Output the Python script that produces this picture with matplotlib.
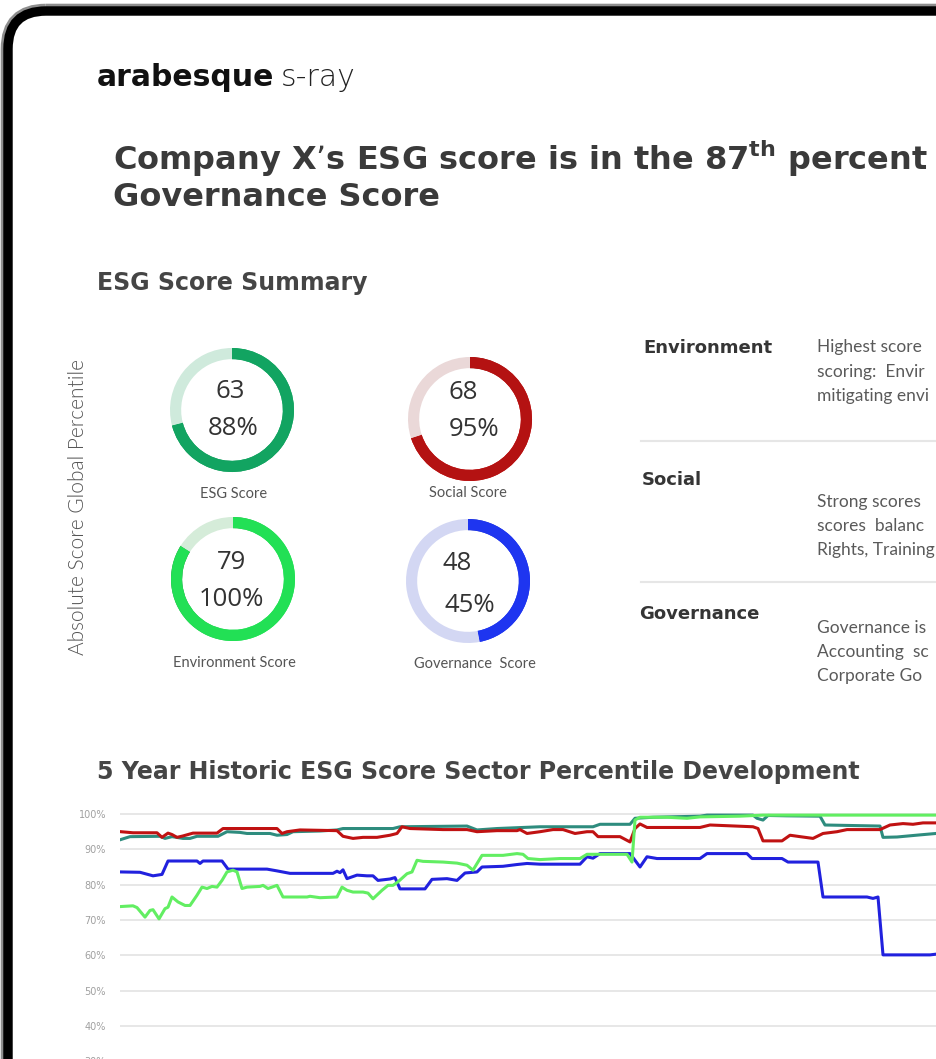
import numpy as np
import matplotlib.pyplot as plt
from matplotlib.patches import FancyBboxPatch
from matplotlib.colors import LinearSegmentedColormap
from matplotlib.ticker import PercentFormatter

plt.rcParams['mathtext.fontset'] = 'dejavusans'

W, H = 936, 1059

# ---- gauge data
gauge_names = ["ESG Score", "Social Score", "Environment Score", "Governance  Score"]
gauge_scores = [63, 68, 79, 48]
gauge_pct = [88, 95, 100, 45]
gauge_fill = [0.71, 0.70, 0.84, 0.47]  # share of ring drawn in colour

# ---- pillar commentary (as far as it shows before the page edge)
pillars = ["Environment", "Social", "Governance"]
pillar_text = [
    ["Highest score", "scoring:  Envir", "mitigating envi"],
    ["Strong scores", "scores  balanc", "Rights, Training"],
    ["Governance is", "Accounting  sc", "Corporate Go"],
]

# ---- 5 year sector percentile history (day index, percentile)
pct_ticks = [30, 40, 50, 60, 70, 80, 90, 100]

esg_day = [0, 18, 78, 88, 102, 124, 138, 152, 194, 212, 238, 252, 298, 312, 332,
           344, 398, 432, 444, 544, 558, 692, 712, 752, 838, 944, 958, 1018, 1028,
           1064, 1158, 1172, 1264, 1272, 1284, 1294, 1332, 1398, 1408, 1518, 1524,
           1552, 1598, 1630]
esg_pct = [92.8, 93.6, 93.7, 93.1, 93.6, 93.1, 93.1, 93.7, 93.7, 95.0, 94.8, 94.5,
           94.5, 94.0, 94.2, 95.0, 95.2, 95.5, 95.9, 95.9, 96.4, 96.6, 95.5, 95.9,
           96.4, 96.4, 97.1, 97.1, 98.8, 99.1, 99.4, 99.7, 99.7, 98.8, 98.3, 99.6,
           99.5, 99.4, 96.9, 96.6, 93.4, 93.5, 94.1, 94.5]

soc_day = [0, 24, 72, 82, 94, 102, 112, 124, 144, 192, 204, 312, 322, 332, 358,
           432, 444, 464, 484, 512, 538, 552, 562, 578, 644, 692, 712, 752, 792,
           798, 812, 838, 864, 884, 908, 932, 944, 954, 998, 1018, 1028, 1038,
           1052, 1158, 1178, 1264, 1274, 1284, 1322, 1338, 1358, 1384, 1404, 1432,
           1452, 1518, 1538, 1564, 1584, 1604, 1630]
soc_pct = [95.0, 94.7, 94.7, 93.4, 94.6, 94.2, 93.4, 93.8, 94.6, 94.6, 95.9, 95.9,
           94.5, 95.0, 95.5, 95.3, 93.7, 93.1, 93.4, 93.4, 94.0, 94.5, 96.4, 95.9,
           95.6, 95.6, 95.0, 95.3, 95.3, 95.6, 94.5, 95.0, 95.6, 95.6, 94.5, 95.0,
           95.0, 93.6, 93.6, 92.1, 95.9, 97.2, 96.2, 96.2, 96.9, 96.4, 95.9, 92.4,
           92.4, 94.0, 93.6, 93.1, 94.5, 95.0, 95.6, 95.6, 96.9, 97.3, 97.1, 97.5,
           97.5]

gov_day = [0, 38, 64, 82, 94, 152, 158, 164, 202, 214, 292, 312, 338, 424, 432,
           438, 444, 452, 464, 472, 492, 504, 514, 538, 548, 558, 608, 622, 652,
           672, 688, 712, 722, 764, 792, 812, 838, 918, 932, 944, 958, 1018, 1038,
           1052, 1072, 1158, 1172, 1252, 1262, 1322, 1334, 1394, 1404, 1492, 1504,
           1514, 1524, 1618, 1630]
gov_pct = [83.6, 83.5, 82.5, 82.9, 86.7, 86.7, 86.0, 86.7, 86.7, 84.4, 84.4, 83.9,
           83.2, 83.2, 83.8, 83.4, 84.2, 81.7, 82.3, 82.7, 82.5, 82.5, 81.2, 81.6,
           82.0, 78.8, 78.8, 81.5, 81.7, 81.2, 83.3, 83.6, 85.0, 85.2, 85.7, 86.0,
           85.8, 85.8, 87.9, 87.5, 88.8, 88.8, 85.0, 87.9, 87.4, 87.4, 88.8, 88.8,
           87.4, 87.4, 86.4, 86.4, 76.5, 76.5, 76.1, 76.5, 60.1, 60.1, 60.3]

env_day = [0, 24, 32, 48, 58, 64, 76, 88, 94, 102, 114, 128, 138, 152, 162, 172,
           182, 192, 202, 212, 224, 232, 242, 252, 278, 284, 294, 312, 324, 372,
           378, 398, 432, 442, 452, 464, 484, 494, 504, 522, 534, 544, 554, 572,
           582, 592, 604, 644, 672, 692, 704, 722, 764, 792, 804, 814, 838, 878,
           918, 932, 1012, 1022, 1028, 1038, 1092, 1132, 1158, 1238, 1284, 1630]
env_pct = [73.8, 74.0, 73.5, 70.8, 72.7, 72.9, 70.3, 73.2, 73.6, 76.5, 75.1, 74.1,
           74.1, 77.0, 79.3, 78.9, 79.5, 79.3, 81.2, 83.6, 84.1, 83.6, 78.9, 79.3,
           79.5, 79.8, 78.9, 79.8, 76.5, 76.5, 76.7, 76.3, 76.5, 79.3, 78.4, 77.9,
           77.9, 77.6, 76.0, 78.4, 79.8, 79.8, 80.8, 83.1, 83.6, 86.9, 86.6, 86.4,
           86.1, 85.5, 84.1, 88.3, 88.3, 88.8, 88.6, 87.4, 87.1, 87.4, 87.4, 88.6,
           88.6, 86.4, 98.3, 99.1, 99.1, 98.8, 99.2, 99.4, 99.7, 99.7]

# ---------------------------------------------------------------- page
fig = plt.figure(figsize=(W / 100, H / 100), dpi=100)
fig.patch.set_facecolor('white')

bg = fig.add_axes([0, 0, 1, 1])
bg.set_xlim(0, W)
bg.set_ylim(H, 0)
bg.axis('off')

# tablet bezel
bg.add_patch(FancyBboxPatch((8, 11), 1300, 1400, boxstyle='round,pad=0,rounding_size=38',
                            fc='none', ec='#8e8e8e', lw=10.5))
bg.add_patch(FancyBboxPatch((8, 11), 1300, 1400, boxstyle='round,pad=0,rounding_size=38',
                            fc='white', ec='black', lw=6.8))

# logo
bg.text(97, 86, "arabesque", fontsize=21.5, fontweight='bold', color='#111111')
bg.text(281, 86, "s-ray", fontsize=21.5, fontweight=200, color='#222222')

# headline
title_kw = dict(fontsize=23, fontweight='bold', color='#3a3a3a')
bg.text(113, 170, "Company X’s ESG score is in the 87$^{\\mathbf{th}}$ percent", **title_kw)
bg.text(113, 206, "Governance Score", **title_kw)

# gradient rules
bar_cmap = LinearSegmentedColormap.from_list('bar', ['#1b33e6', '#1a63ea', '#17a6f0'])
ramp = np.linspace(0, 1, 256).reshape(1, -1)
bg.imshow(ramp, cmap=bar_cmap, aspect='auto', extent=(97, 936, 250, 241))
bg.imshow(ramp, cmap=bar_cmap, aspect='auto', extent=(93, 936, 738, 729))

head_kw = dict(fontsize=17, fontweight='bold', color='#454545')
bg.text(97, 290, "ESG Score Summary", **head_kw)
bg.text(97, 779, "5 Year Historic ESG Score Sector Percentile Development", **head_kw)

bg.text(78, 507, "Absolute Score Global Percentile", rotation=90, ha='center', va='center',
        fontsize=15, family='Lato', fontweight=300, color='#555555')

# ---------------------------------------------------------------- gauges
centers = [(232, 410), (470, 419), (233, 579), (468, 581)]
num_pos = [((230, 398), (233, 435)), ((463, 399), (474, 436)),
           ((231, 569), (231, 606)), ((457, 570), (470, 612))]
name_pos = [(234, 498), (468, 497), (234, 667), (475, 668)]
ring_stops = [
    [(0, '#1cb06a'), (0.5, '#12a461'), (1, '#0f9c5a')],
    [(0, '#8e1a1a'), (0.12, '#b41212'), (0.25, '#cc0b0b'), (1, '#d00a0a')],
    [(0, '#2f9e4a'), (0.1, '#22e055'), (0.55, '#22f05c'), (0.72, '#1fb546'),
     (0.86, '#1e8f3a'), (1, '#1e7a33')],
    [(0, '#2b3fae'), (0.3, '#1e35f0'), (1, '#1a2ff5')],
]
tracks = ['#cfeadc', '#ead8d8', '#d5ecd9', '#d3d7f3']

R = 62
gx, gy = np.meshgrid(np.linspace(-1, 1, 400), np.linspace(-1, 1, 400))
sweep = (np.degrees(np.arctan2(gx, gy)) % 360) / 360.0

for i in range(4):
    cx, cy = centers[i]
    ax = fig.add_axes([(cx - R) / W, 1 - (cy + R) / H, 2 * R / W, 2 * R / H])
    f = gauge_fill[i]
    wedges, _ = ax.pie([f, 1 - f], colors=[ring_stops[i][1][1], tracks[i]], startangle=90,
                       counterclock=False, radius=1,
                       wedgeprops=dict(width=0.18, edgecolor='none'))
    cmap = LinearSegmentedColormap.from_list('ring%d' % i, ring_stops[i])
    im = ax.imshow(np.clip(sweep / f, 0, 1), cmap=cmap, origin='lower',
                   extent=(-1, 1, -1, 1), vmin=0, vmax=1)
    im.set_clip_path(wedges[0])
    ax.set_xlim(-1, 1)
    ax.set_ylim(-1, 1)
    ax.set_aspect('equal')
    ax.axis('off')

    (sx, sy), (px, py) = num_pos[i]
    bg.text(sx, sy, str(gauge_scores[i]), ha='center', fontsize=18.5, family='Open Sans',
            color='#333333')
    bg.text(px, py, "%d%%" % gauge_pct[i], ha='center', fontsize=18.5, family='Open Sans',
            color='#333333')
    bg.text(name_pos[i][0], name_pos[i][1], gauge_names[i], ha='center', fontsize=10.5,
            family='Lato', color='#555555')

# ---------------------------------------------------------------- pillar table
head_y = [353, 485, 619]
head_x = [643, 642, 639]
text_y = [[352, 377, 401], [507, 531, 555], [633, 657, 681]]
for i, name in enumerate(pillars):
    bg.text(head_x[i], head_y[i], name, fontsize=13, fontweight='bold', color='#353535')
    for line, y in zip(pillar_text[i], text_y[i]):
        bg.text(817, y, line, fontsize=12.5, family='Lato', color='#5a5a5a')
for y in (441, 582):
    bg.plot([641, 936], [y, y], color='#e6e6e6', lw=1.5)

# ---------------------------------------------------------------- history chart
top_px, bot_px = 807, 1167
ch = fig.add_axes([120 / W, 1 - bot_px / H, 816 / W, (bot_px - top_px) / H])
ch.set_facecolor('none')
ch.plot(esg_day, esg_pct, color='#2e8c7e', lw=2.2)
ch.plot(soc_day, soc_pct, color='#c01212', lw=2.2)
ch.plot(gov_day, gov_pct, color='#2121de', lw=2.2)
ch.plot(env_day, env_pct, color='#62ee62', lw=2.2)
ch.set_xlim(-2, 1630)
ch.set_ylim(0, 102)
ch.set_yticks(pct_ticks)
ch.yaxis.set_major_formatter(PercentFormatter(decimals=0))
ch.grid(axis='y', color='#e3e3e3', lw=1.2)
ch.set_axisbelow(True)
ch.set_xticks([])
ch.tick_params(axis='y', length=0, pad=10, labelsize=7, labelcolor='#a0a0a0')
for s in ch.spines.values():
    s.set_visible(False)

fig.savefig('out.png', dpi=100)
